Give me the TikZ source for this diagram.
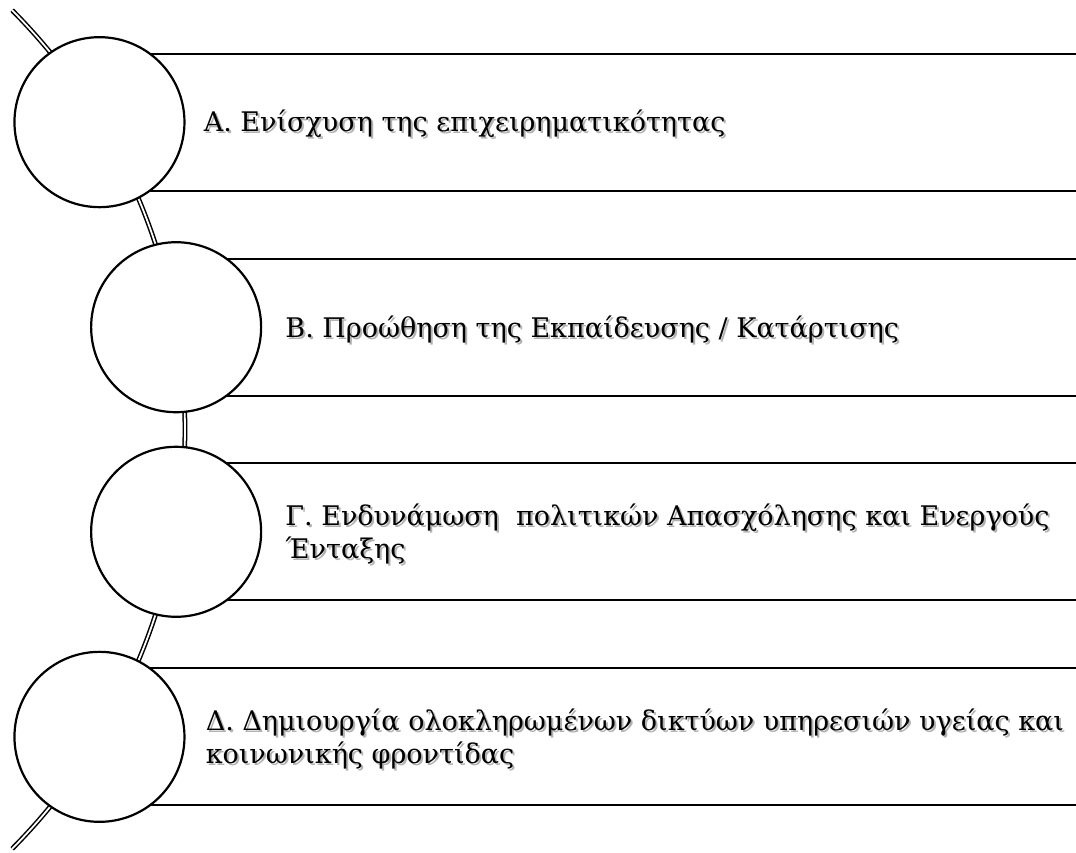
\documentclass[tikz,border=0pt]{standalone}
\usepackage{fontspec}
\setmainfont{DejaVu Serif}
\usetikzlibrary{positioning}

% text with a soft grey drop shadow
\newcommand\shtxt[1]{\makebox[0pt][l]{\hspace{2pt}\raisebox{-2pt}{\color{black!30}#1}}#1}

\begin{document}
\begin{tikzpicture}[x=1pt,y=-1pt,
	bead/.style={circle,draw,line width=2.2pt,fill=white,minimum size=170pt,inner sep=0pt},
	band/.style={draw,line width=2.2pt,fill=white},
	cord/.style={line width=1.5pt,double=white,double distance=1.8pt},
	item/.style={align=left,inner sep=0pt,yshift=-3pt,font=\fontsize{27}{33}\selectfont}]
	\useasboundingbox (0,0) rectangle (1076,852);
	\def\cx{-410} % centre of the bent cord
	\def\cy{429.5}
	\def\R{595} % radius of the bent cord
	\def\h{137} % height of a band
	
	\draw[cord] (\cx,\cy) ++(-44.8:\R) arc[start angle=-44.8,end angle=44.8,radius=\R];
	
	\foreach \a [count=\i] in {-31.1,-9.9,9.9,31.1}
	{
		\path (\cx,\cy) ++(\a:\R) coordinate (p\i); % centre of bead \i
		\draw[band] (p\i) ++(0,-\h/2) rectangle ++(1000,\h);
		\node[bead] (c\i) at (p\i) {};
	}
	
	\node[item,right=18pt of c1] (t1) {\shtxt{Α. Ενίσχυση της επιχειρηματικότητας}};
	\node[item,right=23pt of c2] (t2) {\shtxt{Β. Προώθηση της Εκπαίδευσης / Κατάρτισης}};
	\node[item,right=23pt of c3] (t3) {\shtxt{Γ. Ενδυνάμωση~ πολιτικών Απασχόλησης και Ενεργούς}\\\shtxt{Ένταξης}};
	\node[item,right=20pt of c4] (t4) {\shtxt{Δ. Δημιουργία ολοκληρωμένων δικτύων υπηρεσιών υγείας και}\\\shtxt{κοινωνικής φροντίδας}};
\end{tikzpicture}
\end{document}
